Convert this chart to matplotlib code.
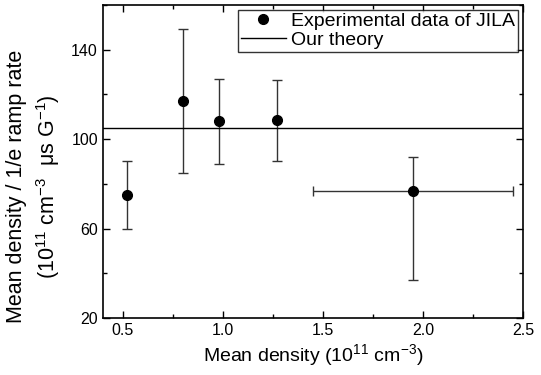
import numpy as np
import matplotlib.pyplot as plt
from matplotlib.ticker import MultipleLocator, FixedLocator

plt.rcParams['font.family'] = ['Liberation Sans', 'DejaVu Sans']
plt.rcParams['mathtext.fontset'] = 'custom'
plt.rcParams['mathtext.rm'] = 'Liberation Sans'

# experimental points
density = [0.52, 0.80, 0.98, 1.27, 1.95]
ratio = [75, 117, 108, 108.5, 77]
ratio_low = [60, 85, 89, 90, 37]
ratio_high = [90, 149, 127, 126.5, 92]
density_low = [0.52, 0.80, 0.98, 1.27, 1.45]
density_high = [0.52, 0.80, 0.98, 1.27, 2.45]

theory_value = 105

y_major = [20, 60, 100, 140]
y_minor = [40, 80, 120, 160]


def plot():
    fig = plt.figure(figsize=(5.41, 3.75), dpi=100)
    ax = fig.add_axes([0.190, 0.152, 0.777, 0.835])

    x = np.array(density)
    y = np.array(ratio)
    yerr = [y - np.array(ratio_low), np.array(ratio_high) - y]
    xerr = [x - np.array(density_low), np.array(density_high) - x]

    ax.errorbar(x, y, yerr=yerr, xerr=xerr, fmt='none', ecolor='#333333',
                elinewidth=1.0, capsize=3.5, capthick=1.0, zorder=2)
    ax.plot(x, y, 'o', color='black', markersize=7,
            label='Experimental data of JILA', zorder=3)
    ax.axhline(theory_value, color='black', linewidth=1.0, label='Our theory')

    ax.set_xlim(0.4, 2.5)
    ax.set_ylim(20, 160)
    ax.xaxis.set_major_locator(MultipleLocator(0.5))
    ax.xaxis.set_minor_locator(MultipleLocator(0.25))
    ax.yaxis.set_major_locator(FixedLocator(y_major))
    ax.yaxis.set_minor_locator(FixedLocator(y_minor))
    ax.tick_params(which='both', direction='in', top=True, right=True,
                   labelsize=11.5, width=1.0)
    ax.tick_params(which='major', length=5)
    ax.tick_params(which='minor', length=3)
    for s in ax.spines.values():
        s.set_linewidth(1.2)

    ax.set_xlabel(r'Mean density (10$^{\mathregular{11}}$ cm$^{\mathregular{-3}}$)',
                  fontsize=14, labelpad=3)
    ax.set_ylabel('Mean density / 1/e ramp rate\n'
                  r'(10$^{\mathregular{11}}$ cm$^{\mathregular{-3}}$  μs G$^{\mathregular{-1}}$)',
                  fontsize=15.5, linespacing=1.3)
    ax.yaxis.set_label_coords(-0.098, 0.42)

    leg = ax.legend(loc='upper right', fontsize=14, frameon=True,
                    fancybox=False, edgecolor='black', borderpad=0.15,
                    handlelength=2.3, handletextpad=0.3, labelspacing=0.05,
                    borderaxespad=0.25)
    leg.get_frame().set_linewidth(1.0)

    fig.savefig('out.png', dpi=100)


if __name__ == "__main__":
    plot()
